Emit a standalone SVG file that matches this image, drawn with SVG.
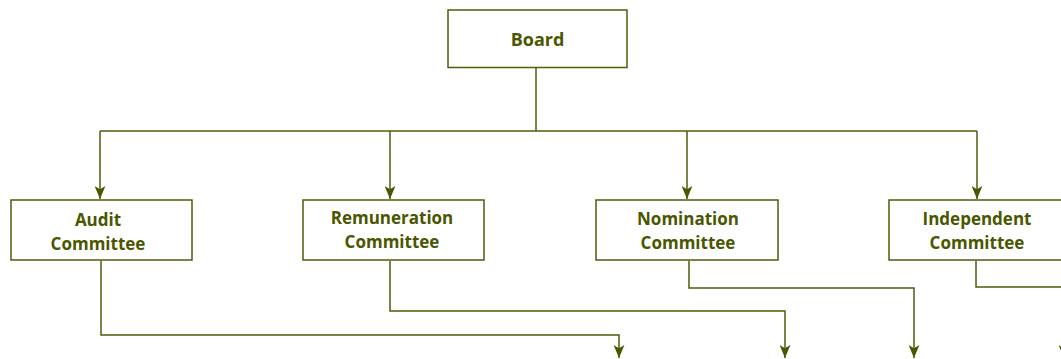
<svg xmlns="http://www.w3.org/2000/svg" width="1061" height="359" viewBox="0 0 1061 359">
<style>
.box{fill:#fff;stroke:#4f5c0a;stroke-width:1.5}
.lbl{font-family:"Open Sans",sans-serif;font-weight:bold;font-size:17px;fill:#4a5600;text-anchor:middle}
.ln{fill:none;stroke:#4f5c0a;stroke-width:1.5}
</style>
<defs>
<marker id="ah" markerUnits="userSpaceOnUse" markerWidth="13" markerHeight="11" refX="12" refY="5" orient="auto" viewBox="0 0 12 10">
<path d="M0,0 L12,5 L0,10 L3,5 Z" fill="#4a5600"/>
</marker>
</defs>
<rect width="1061" height="359" fill="#fff"/>
<g id="connectors">
<path class="ln" d="M536,68 V131"/>
<path class="ln" d="M100,131 H977"/>
<path class="ln" d="M100,131 V199" marker-end="url(#ah)"/>
<path class="ln" d="M390,131 V199" marker-end="url(#ah)"/>
<path class="ln" d="M687,131 V199" marker-end="url(#ah)"/>
<path class="ln" d="M977,131 V199" marker-end="url(#ah)"/>
<path class="ln" d="M101,261 V335 H619 V358" marker-end="url(#ah)"/>
<path class="ln" d="M390,261 V311 H785 V358" marker-end="url(#ah)"/>
<path class="ln" d="M689,261 V288 H914 V358" marker-end="url(#ah)"/>
<path class="ln" d="M976,261 V287 H1064 V358" marker-end="url(#ah)"/>
</g>
<g id="board">
<rect class="box" x="448" y="10" width="179" height="57.5"/>
<text class="lbl" x="537.5" y="46" style="font-size:18px">Board</text>
</g>
<g id="audit">
<rect class="box" x="11" y="200" width="181" height="60"/>
<text class="lbl" x="98" y="226">Audit</text>
<text class="lbl" x="98" y="250">Committee</text>
</g>
<g id="remuneration">
<rect class="box" x="303" y="200" width="181" height="60"/>
<text class="lbl" x="392" y="224">Remuneration</text>
<text class="lbl" x="392" y="248">Committee</text>
</g>
<g id="nomination">
<rect class="box" x="596" y="200" width="182" height="60"/>
<text class="lbl" x="688" y="225">Nomination</text>
<text class="lbl" x="688" y="249">Committee</text>
</g>
<g id="independent">
<rect class="box" x="889" y="200" width="181" height="60"/>
<text class="lbl" x="977" y="225">Independent</text>
<text class="lbl" x="977" y="249">Committee</text>
</g>
</svg>
